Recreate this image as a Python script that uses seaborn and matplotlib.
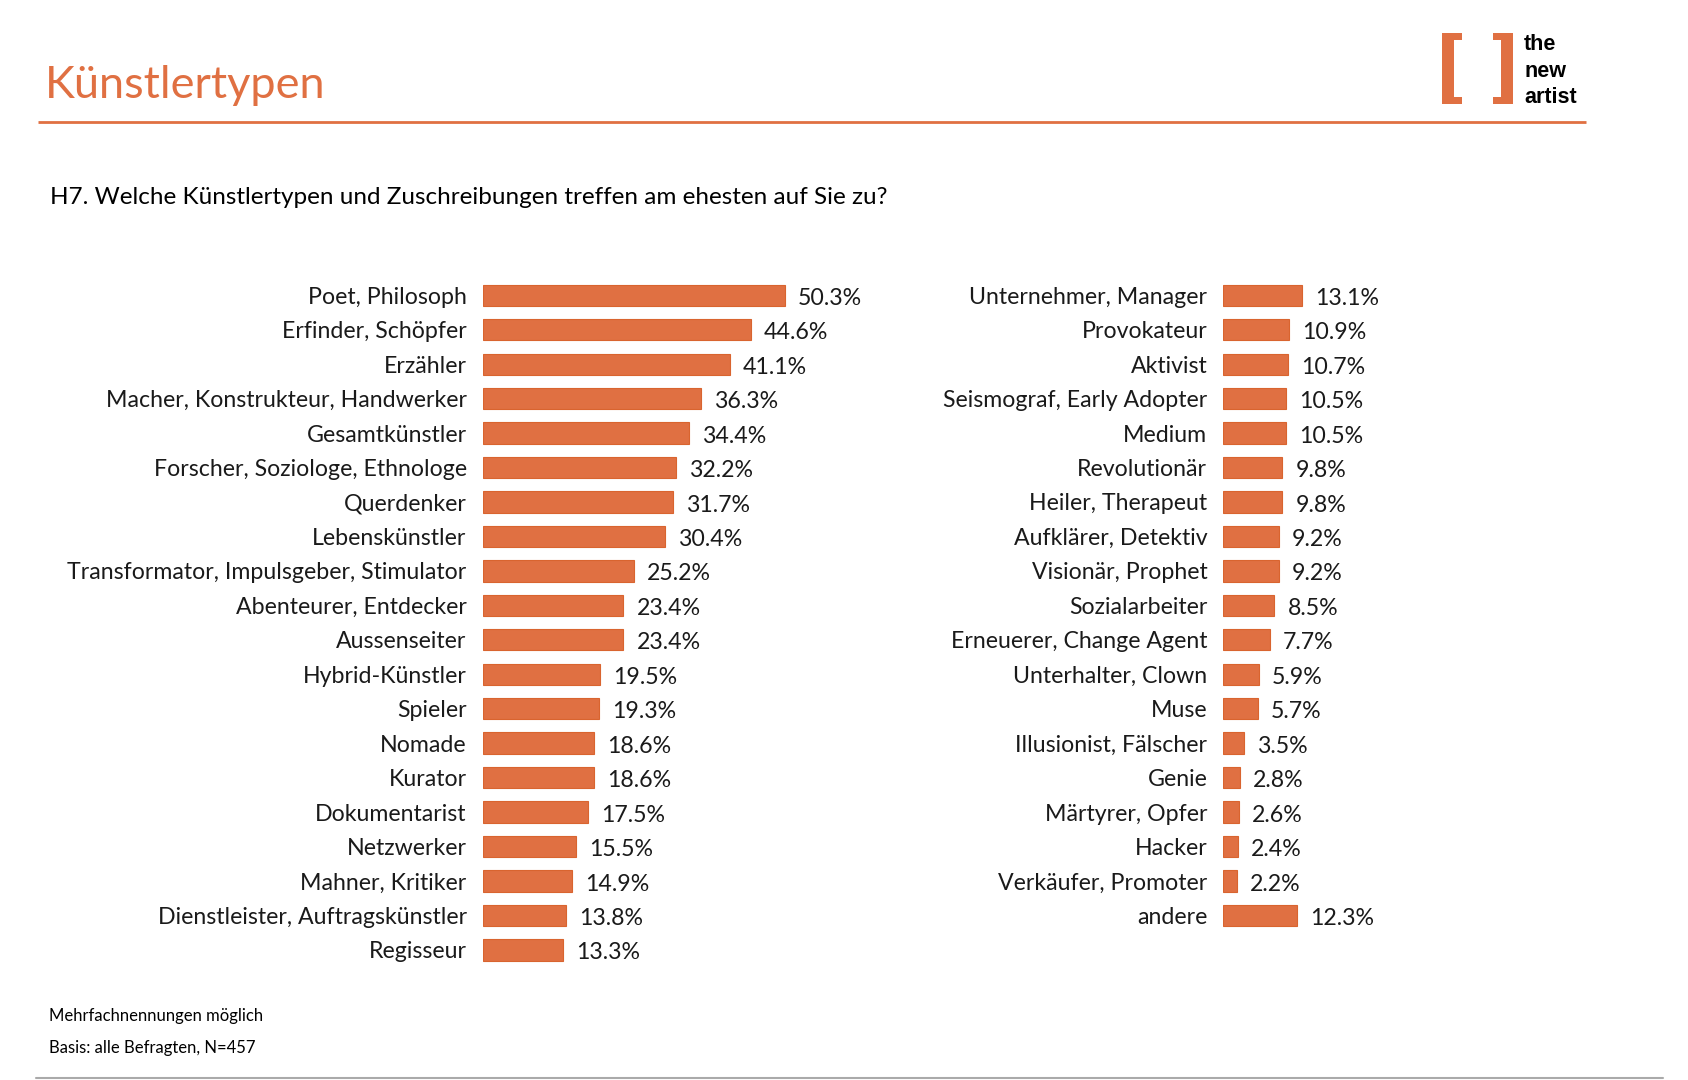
import matplotlib
matplotlib.use('Agg')
import matplotlib.pyplot as plt
from matplotlib.patches import Rectangle
import seaborn as sns

# Data
left_labels = [
    "Poet, Philosoph", "Erfinder, Schöpfer", "Erzähler",
    "Macher, Konstrukteur, Handwerker", "Gesamtkünstler",
    "Forscher, Soziologe, Ethnologe", "Querdenker", "Lebenskünstler",
    "Transformator, Impulsgeber, Stimulator", "Abenteurer, Entdecker",
    "Aussenseiter", "Hybrid-Künstler", "Spieler", "Nomade", "Kurator",
    "Dokumentarist", "Netzwerker", "Mahner, Kritiker",
    "Dienstleister, Auftragskünstler", "Regisseur",
]
left_values = [50.3, 44.6, 41.1, 36.3, 34.4, 32.2, 31.7, 30.4, 25.2, 23.4,
               23.4, 19.5, 19.3, 18.6, 18.6, 17.5, 15.5, 14.9, 13.8, 13.3]

right_labels = [
    "Unternehmer, Manager", "Provokateur", "Aktivist",
    "Seismograf, Early Adopter", "Medium", "Revolutionär",
    "Heiler, Therapeut", "Aufklärer, Detektiv", "Visionär, Prophet",
    "Sozialarbeiter", "Erneuerer, Change Agent", "Unterhalter, Clown",
    "Muse", "Illusionist, Fälscher", "Genie", "Märtyrer, Opfer", "Hacker",
    "Verkäufer, Promoter", "andere",
]
right_values = [13.1, 10.9, 10.7, 10.5, 10.5, 9.8, 9.8, 9.2, 9.2, 8.5,
                7.7, 5.9, 5.7, 3.5, 2.8, 2.6, 2.4, 2.2, 12.3]

ORANGE = '#E07042'
W, H = 1688, 1080
PX_PER_PCT = 6.01
ROW = 34.45
TOP = 295.3 - ROW / 2
FONT = ['Lato', 'DejaVu Sans']
LABEL_SIZE = 16.7

sns.set_theme(style='white')
plt.rcParams['font.family'] = FONT

fig = plt.figure(figsize=(W / 100, H / 100), dpi=100)


def add_axes_px(x0, y_top, width, height):
    return fig.add_axes([x0 / W, 1 - (y_top + height) / H, width / W, height / H])


def bar_panel(ax, labels, values, xmax):
    sns.barplot(x=values, y=labels, orient='h', color=ORANGE, width=0.62,
                edgecolor='#D9642F', linewidth=0.8, saturation=1, ax=ax)
    ax.set_xlim(0, xmax)
    ax.set_ylim(len(labels) - 0.5, -0.5)
    ax.set_xlabel('')
    ax.set_ylabel('')
    ax.xaxis.set_visible(False)
    ax.tick_params(axis='y', length=0, pad=11.5, labelsize=LABEL_SIZE, labelcolor='#1a1a1a')
    for lbl in ax.get_yticklabels():
        lbl.set_y(lbl.get_position()[1])
    for s in ax.spines.values():
        s.set_visible(False)
    ax.patch.set_alpha(0)
    # value labels, sitting a touch below the bar centre like the original
    for patch, v in zip(ax.patches, values):
        ax.annotate(f'{v:.1f}%',
                    xy=(patch.get_width(), patch.get_y() + patch.get_height() / 2),
                    xytext=(9.4, -2.2), textcoords='offset points',
                    ha='left', va='center', fontsize=LABEL_SIZE, color='#1a1a1a')


ax_l = add_axes_px(482.7, TOP, 60 * PX_PER_PCT, len(left_labels) * ROW)
bar_panel(ax_l, left_labels, left_values, 60)

ax_r = add_axes_px(1223.3, TOP, 30 * PX_PER_PCT, len(right_labels) * ROW)
bar_panel(ax_r, right_labels, right_values, 30)

# Overlay for header / footer decoration in pixel coords
ov = fig.add_axes([0, 0, 1, 1], zorder=-1)
ov.set_xlim(0, W)
ov.set_ylim(H, 0)
ov.axis('off')

ov.text(45, 85, 'Künstlertypen', fontsize=32.5, color=ORANGE, va='center', ha='left')
ov.plot([38, 1586], [122, 122], color=ORANGE, lw=2, solid_capstyle='butt')

# logo brackets
ov.add_patch(Rectangle((1442, 33), 12, 71, color=ORANGE, lw=0))
ov.add_patch(Rectangle((1442, 33), 20, 7, color=ORANGE, lw=0))
ov.add_patch(Rectangle((1442, 97), 20, 7, color=ORANGE, lw=0))
ov.add_patch(Rectangle((1501, 33), 12, 71, color=ORANGE, lw=0))
ov.add_patch(Rectangle((1493, 33), 20, 7, color=ORANGE, lw=0))
ov.add_patch(Rectangle((1493, 97), 20, 7, color=ORANGE, lw=0))
for yy, word in zip([45, 71.5, 97.5], ['the', 'new', 'artist']):
    ov.text(1524, yy, word, fontsize=15.5, fontweight='bold', color='black',
            family=['Liberation Sans', 'DejaVu Sans'], va='center', ha='left')

ov.text(50, 198, 'H7. Welche Künstlertypen und Zuschreibungen treffen am ehesten auf Sie zu?',
        fontsize=17.5, color='black', va='center', ha='left')

ov.text(49, 1016, 'Mehrfachnennungen möglich', fontsize=12, color='black', va='center')
ov.text(49, 1048, 'Basis: alle Befragten, N=457', fontsize=12, color='black', va='center')
ov.plot([36, 1663], [1078, 1078], color='#aaaaaa', lw=1.5)

fig.savefig('out.png', dpi=100, facecolor='white')
plt.close(fig)
